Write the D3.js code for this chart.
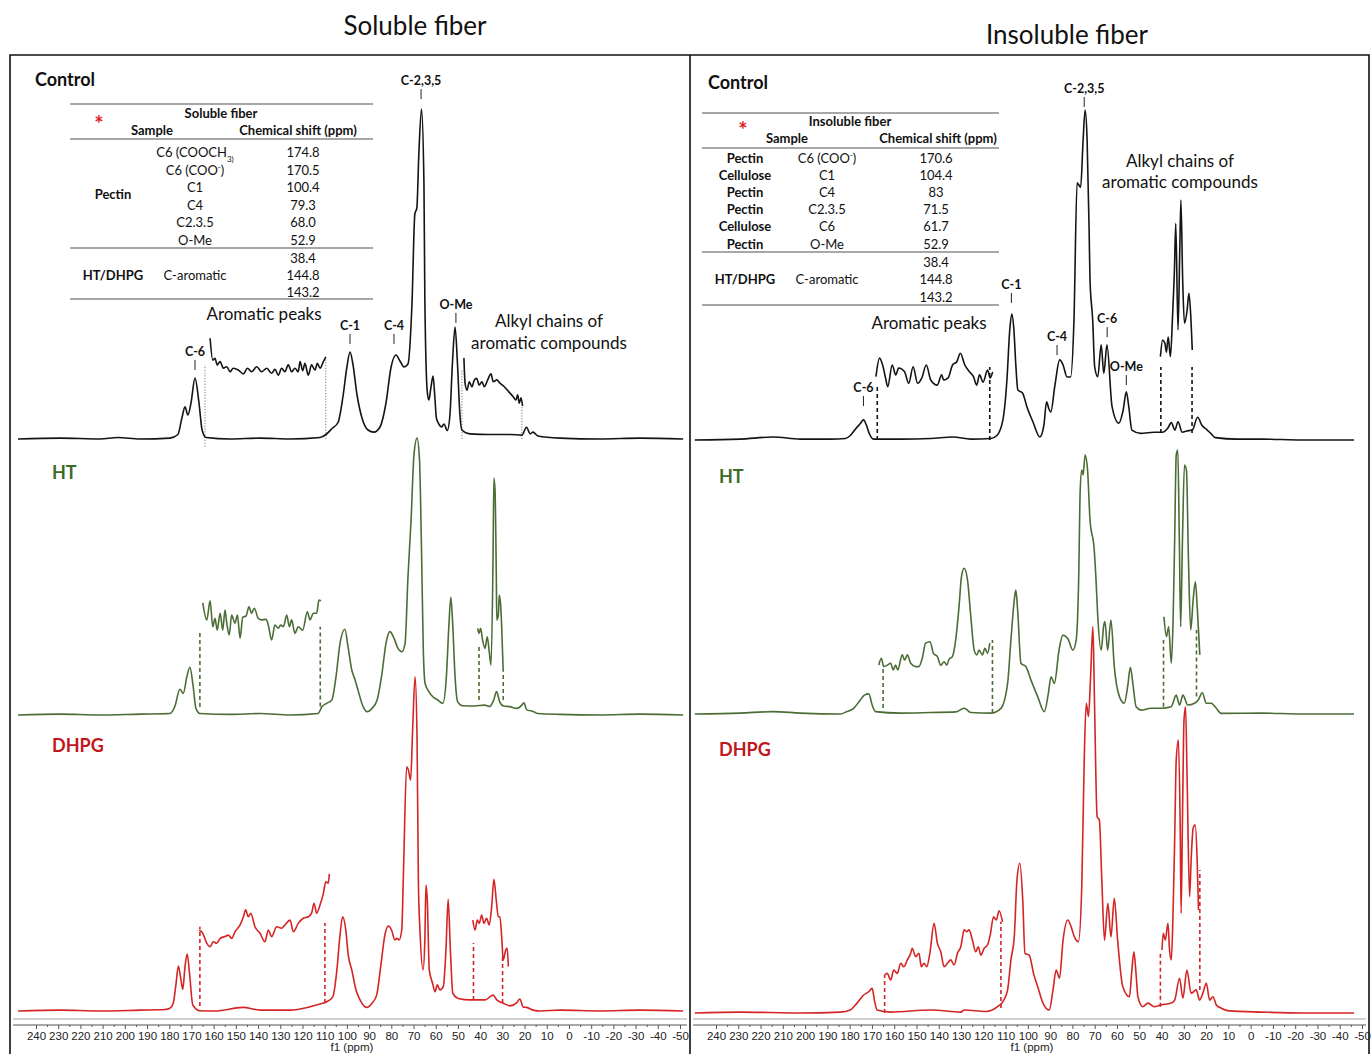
<!DOCTYPE html>
<html>
<head>
<meta charset="utf-8">
<script src="https://cdn.jsdelivr.net/npm/d3@7"></script>
<style>
  body { margin: 0; background: #fff; }
  svg { display: block; font-family: Lato, "Open Sans", sans-serif; }
  .tick text { font-family: "Liberation Sans", Arial, sans-serif; font-size: 11.5px; fill: #222; }
</style>
</head>
<body>
<div id="chart"></div>
<script>
'use strict';

// ---- data (ppm, intensity a.u.) ----
const ppmTicks = [240, 230, 220, 210, 200, 190, 180, 170, 160, 150, 140, 130, 120, 110, 100, 90, 80, 70, 60, 50, 40, 30, 20, 10, 0, -10, -20, -30, -40, -50];

// soluble fiber
const solControl = [[248.1,0],[229.2,0.3],[211.2,0],[203.1,0.5],[193.2,0],[179.7,0.3],[176.1,1.5],[174.3,7],[172.9,10.7],[171.6,8],[170.2,12],[168.4,20.3],[166.6,12],[165.2,3],[163.4,0.5],[152.6,0],[139.1,0.3],[125.6,0],[112.1,0.5],[109.4,1.5],[106.7,3.5],[104,5.5],[101.8,14],[100,24],[98.6,29],[97.3,25],[95.5,15],[93.2,7],[90.5,3],[87.8,2.3],[85.1,4],[82.4,12],[80.1,24],[77.9,28],[76.1,26],[74.3,24],[72.5,25],[70.7,45],[69.4,75],[68.5,77],[67.6,95],[66.4,110],[65.3,85],[64.9,46.7],[63.8,15.7],[63.1,13],[62.2,17],[61.2,21],[60.4,14],[59.7,7],[58.6,5],[57.4,4],[56.3,5],[54.8,2.8],[53.6,8],[52.5,25],[51.3,37.3],[50.2,25],[49.1,8],[48.2,3],[44.6,1.7],[35.6,1.5],[26.6,1.5],[21.2,1.3],[19.1,3.9],[17.5,1.7],[16.2,2.3],[14,1],[4.1,0.3],[-14,0],[-32,0.3],[-51.4,0]];
const solControlArom = [[161.6,33.6],[160.4,26.3],[159.4,26.9],[158.4,24.7],[157.1,25.8],[155.6,23.6],[154.1,24.1],[152.6,22.4],[151.2,23.6],[148.9,23],[146.6,21.7],[144.8,23.6],[142.9,22.4],[140.6,24.1],[138.4,22.4],[136.1,23.6],[133.9,21.9],[132.4,23.2],[130.9,21.3],[129.4,23.6],[127.9,22.4],[126.4,24.7],[124.9,22.4],[123.4,23.6],[121.9,22.4],[121.1,25.8],[119.9,22.8],[118.9,25.2],[117.4,21.3],[115.9,24.7],[114.4,23],[113.3,25.2],[112.1,23.6],[110.6,25.8],[109.5,27.4]];
const solControlAlkyl = [[47.3,27],[46.8,18.7],[45.9,16.3],[44.9,19.1],[43.7,17.4],[42.6,19.7],[41.6,20.2],[40.4,18],[39.2,19.1],[38.1,17.4],[36.6,19.7],[35.1,21.7],[34.1,19.1],[32.5,19.7],[31.1,18.6],[29.1,17.4],[27.2,15.8],[25.1,14.1],[23.9,13],[23.1,14.7],[22.4,11.9],[21.6,13.7],[20.9,11]];
const solControlGuides = [[163.9,-2.5,24.7],[109.5,0,27],[48.2,0,23],[21.2,0,11]];

const solHT = [[248.1,0],[229.2,0.3],[211.2,0],[193.2,0.3],[179.7,0.5],[177.4,3],[175.2,8.6],[173.7,7.2],[172,13],[170.7,15.9],[169.3,10],[168,2.3],[166.2,0.5],[152.6,0.2],[139.1,0.5],[125.6,0],[113,0.5],[111.2,2.8],[109.1,3.9],[106.8,5],[104.9,12.8],[103.1,23.9],[100.9,28.6],[99.5,22.8],[97.8,15],[96.3,11.7],[95,8.3],[92.7,2.8],[90.9,1.1],[88.7,2.2],[86.4,5],[84.2,13.9],[82.4,23.9],[80.6,27.8],[78.8,25.6],[77,22.2],[75.2,21.1],[73.8,23.9],[72.5,46],[71.1,65],[69.8,86.7],[68.4,92.3],[67.3,85],[66.4,55],[65.6,22],[64.8,10.6],[63.1,7.8],[61.3,6.1],[59.1,5],[56.8,3.9],[55.2,12.8],[54.1,29.4],[53.2,39.2],[52.3,29.4],[51.3,12.8],[50.1,4.4],[47.9,3.1],[42.5,3],[38,3.3],[35.7,2.8],[33.9,5],[32.6,7.8],[31.2,4.4],[29.4,3],[26.7,2.8],[23.6,2.2],[21.2,3.3],[20.3,4.1],[19,1.7],[16.2,1.2],[14,0.5],[4.1,0.2],[-14,0],[-32,0.3],[-51.4,0]];
const solHTArom = [[164.9,37.4],[163.1,31.7],[161.6,38.1],[160.4,29.4],[159.4,32.2],[158.4,28.3],[157.1,33.9],[155.9,28.3],[154.9,35],[154.1,30.6],[153,26.7],[151.9,33.3],[150.4,30.6],[149.3,33.3],[148.1,25.6],[146.9,32.6],[145.4,33],[144.1,36.1],[142.9,33.9],[141.7,35.6],[139.9,32.2],[138.4,31.7],[136.4,31.9],[135.4,30],[133.9,25],[132.4,30],[130.9,28.9],[129.8,30],[128.6,29.4],[127.1,33.3],[125.9,29.4],[124.9,31.7],[123.4,27.2],[121.9,29.4],[119.9,28.3],[117.8,34.4],[116.6,31.7],[115.1,33.9],[113.6,33.9],[112.6,38.3],[111.7,38.1]];
const solHTAlkyl = [[41.1,28.9],[40.5,27.2],[39.8,28.9],[38.9,25],[37.8,22.2],[36.8,26.1],[35.9,21.1],[35.1,16.7],[34.2,51.7],[33.8,79],[33.3,75],[32.7,45],[32.5,31.7],[31.8,33.3],[31.4,40],[30.7,36.1],[30.3,29.4],[29.6,14.4]];
const solHTGuides = [[166.2,2.7,27.8],[112,2.8,29.4],[40.5,5,23.3],[29.6,5,14]];

const solDHPG = [[248.1,0],[229.2,0.3],[211.2,0],[193.2,0.3],[181.9,0.5],[179.7,0.9],[178.2,2.6],[177,8.7],[175.9,15],[174.7,10.3],[173.9,7.2],[172.9,14.8],[171.9,19],[170.8,12],[169.4,2],[166.2,0.1],[159.4,0],[146.8,1.2],[139.1,0.3],[125.6,0.3],[116.6,1.4],[112.1,2.3],[109.1,3.1],[106.3,4.8],[104.5,13.7],[103.1,25.3],[101.9,31.4],[100.5,27],[99.4,18.7],[97.8,13.7],[95.9,7],[94.1,3.7],[91.1,1.2],[88.7,2.6],[86.6,5.3],[84.7,15.3],[82.9,25.3],[81.4,28.3],[79.9,27],[78.4,23.7],[77.4,24.2],[76.5,23.7],[75.3,27],[74.5,47],[73.1,81.4],[72.3,80.3],[71.3,77],[70.4,93.7],[69.3,111.4],[68.4,90.3],[67.8,42.6],[67.1,27],[65.7,13.7],[64.9,23.7],[64.4,42],[63.8,37],[62.9,13.7],[61.4,9.2],[60.3,6.4],[59.3,8.7],[58.1,7],[56.6,8.1],[55.4,20.3],[54.4,37.2],[53.4,20.3],[52.3,5.9],[49.8,4.2],[44.6,3.7],[37.8,3.7],[34.2,5.3],[32.5,3.7],[29.6,2.6],[26.6,1.7],[23.6,2.7],[22.1,4],[20.6,1.3],[19.1,1.2],[16.2,0.3],[13,0],[4.1,0.3],[-14,0],[-32,0.3],[-51.4,0]];
const solDHPGArom = [[166.5,27],[164.9,25.9],[163.1,22.6],[161.6,21.4],[160.2,23.1],[158.6,22.6],[157.1,24.2],[154.9,24.8],[153.4,25.3],[151.9,24.2],[150.4,26.4],[148.1,28.7],[146.6,31.4],[145.6,33.7],[144.4,31.4],[143.3,32.6],[141.4,28.1],[139.1,25.9],[136.9,23.1],[135.4,27],[133.9,24.8],[131.6,28.1],[129.4,27.6],[127.9,28.7],[125.6,30.3],[124.1,26.4],[121.9,29.2],[119.6,30.9],[117.4,31.4],[115.9,32.6],[114.8,35.9],[113.6,32.6],[112.1,35.3],[110.6,39.2],[109.5,43.1],[108.4,42.6],[107.9,45.7]];
const solDHPGAlkyl = [[43.3,30.3],[42.3,27],[41.3,30.3],[40.4,29.2],[39.3,32],[38.3,29.2],[37.1,30.9],[35.9,28.7],[34.8,34.8],[33.8,43.9],[32.6,35.9],[31.8,31.4],[31.1,31.4],[30.3,24.8],[29.6,17],[28.5,20.3],[27.8,20.9],[27.3,14.8]];
const solDHPGGuides = [[166.2,1.7,28.1],[109.9,2.7,29.3],[43,3.7,22.7],[29.9,2.7,18.1]];

// insoluble fiber
const insControl = [[249.5,0],[229.2,0.3],[214.3,1],[202.2,0.3],[188.7,0.3],[181.9,0.5],[179.7,1.5],[177,4],[175.2,5.5],[173.8,6.7],[172.5,5],[171.1,2],[169.3,0.3],[157.2,0.3],[143.6,0.5],[133.7,1],[125.6,0.3],[116.6,0.5],[113.9,1.5],[111.2,6.7],[109.4,20],[108.1,37],[107.2,42],[106.3,37],[105.4,25],[104.5,16.7],[102.4,15.7],[100.4,11],[97.7,6],[94.6,1],[92.8,5],[91.6,12.7],[90.6,10.5],[89.7,9.3],[87.9,18],[85.7,26.7],[84.2,25],[82.4,21],[80.8,21],[79.3,40],[77.9,85.7],[76.3,84.3],[75.2,100],[74.3,110],[73.4,100],[72.5,70],[72.1,53.3],[70.9,40],[70,24.4],[68.6,21.1],[67.1,31.7],[65.9,22.2],[64.5,31.7],[62.2,11.1],[59.2,5.6],[57.2,10],[55.8,16.1],[54.7,11.1],[53.3,3.3],[49.3,2.2],[43.4,2.6],[39.7,2.6],[37.2,3.9],[35.6,5.8],[34,3.3],[32.6,6.1],[30.7,2.6],[28.7,3],[26.2,3.3],[23.8,7.6],[21.8,4.8],[19.9,3.6],[17.9,2.2],[15.9,0.8],[6.1,0.3],[-5,0.3],[-23,0],[-46.4,0]];
const insControlArom = [[168.2,21.1],[166.6,27.3],[165.2,25],[163.9,20.7],[162.9,17.8],[160.9,25],[159.3,21.7],[158,24],[155.4,22.8],[153.5,18.9],[151.5,24.4],[149.5,18.9],[147.6,20.7],[145.6,25],[143.6,20],[140.7,18.3],[138.7,21.7],[137.8,20],[135.8,20.7],[133.8,25],[131.9,26.1],[130.3,28.9],[128.3,25],[126.3,22.8],[124.4,21.1],[123,18.3],[121.7,21.7],[120.1,19.3],[118.1,23.3],[116.9,20.7],[115.8,22.7]];
const insControlAlkyl = [[40.5,27.8],[39.5,33.3],[38.5,32.3],[37.8,29.3],[37,34.3],[36,27.8],[35,42.2],[34.2,56.7],[33.6,72.2],[32.6,36.7],[31.8,63.3],[31.3,80],[30.5,53.3],[29.7,38.9],[28.5,43.3],[27.7,48.9],[26.9,41.7],[26.2,30]];
const insControlGuides = [[167.6,0,17.7],[117.1,0,24.3],[40.3,2.3,24.3],[26.3,2.3,24.3]];

const insHT = [[249.5,0],[229.2,0.3],[214.3,0.8],[202.2,0.3],[184.2,0],[181.2,0.8],[178.2,1.9],[175.2,4.7],[173.4,6.3],[171.4,6.7],[169.9,3],[168.4,0.8],[157.2,0.3],[143.6,0.5],[132.4,0.7],[128.6,1.9],[125.6,0.5],[116.6,0.3],[112.1,1.9],[109.1,10.2],[107.6,24.7],[106.1,38],[105.4,41.3],[104.6,34.7],[103.1,16.9],[100.9,15.8],[98.6,11.3],[95.6,5.8],[92.6,0.8],[90.8,6.9],[89.6,12.4],[88.1,10.2],[86,21.3],[84.3,26.3],[82.1,25.2],[79.8,21.3],[78.3,24.7],[77.2,44.7],[76.5,74.7],[75.8,81.3],[75.2,79.7],[74.3,86.3],[73.2,81.3],[72.1,64.7],[70.2,54.7],[69.4,44.7],[68.7,33.6],[67.1,21.3],[65.9,29.7],[65.4,30.8],[64.2,21.3],[62.7,31.3],[61.2,15.8],[58.9,5.8],[56.7,3.6],[55.1,9.7],[54,15.6],[52.8,9.7],[51.4,2.4],[49.2,1.3],[44.7,1.9],[40.2,1.9],[35.7,2.4],[33.4,6.3],[31.9,3],[30.4,6.3],[28.2,3],[25.2,3.6],[23.5,4.7],[21.7,7.1],[19.9,3.6],[17.7,3.6],[15.4,1.9],[13.2,0.2],[-5,0.3],[-23,0],[-46.4,0]];
const insHTArom = [[166.9,16.3],[165.8,18.6],[164.7,15.8],[163.1,16.3],[161.6,16.9],[160.4,14.7],[159.4,16.3],[158.4,14.7],[156.4,19.7],[155.3,18],[154.1,19.7],[152.6,16.9],[150.4,15.8],[148.9,15.8],[147.4,18.6],[145.9,23.6],[143.9,24.1],[142.4,20.2],[140.6,19.1],[139.1,16.3],[137.6,17.4],[136.4,16.3],[135.4,18.2],[133.9,19.1],[132.4,24.7],[130.9,35.8],[129.8,45.8],[128.6,48.6],[127.1,44.7],[125.6,32.4],[124.1,21.3],[122.9,19.7],[121.9,21.3],[120.4,19.7],[119.3,21.9],[118.1,20.2],[117.1,23.6]];
const insHTAlkyl = [[38.9,32.4],[37.8,25.8],[36.8,29.1],[35.6,16.9],[34.8,31.3],[34.1,58],[33.4,86.3],[32.7,88],[32,58],[31.4,29.1],[30.6,58],[29.7,83],[28.8,81.3],[27.9,51.3],[26.9,28],[25.8,38],[24.8,44.1],[23.9,34.7],[22.8,19.7]];
const insHTGuides = [[165,2,15.3],[115.9,0.3,24.7],[39.1,2.4,24.7],[24.3,5.8,28]];

const insDHPG = [[249.5,0],[229.2,0.3],[202.2,0],[184.2,0.3],[179.7,1],[176.7,3.3],[173.7,6],[171.6,7],[169.9,8.2],[168.9,4.3],[167.7,1],[161.6,0.3],[143.6,1],[130.1,0.3],[128.6,1],[118.9,0.5],[113.6,2.1],[110.8,4.3],[109.1,7.7],[107.6,17.7],[106.1,25.4],[104.9,44.3],[103.6,49.9],[102.3,37.7],[101.3,19.9],[99.4,19.3],[97.3,12.7],[95.6,8.8],[93.2,3.3],[90.4,1],[88.7,7.7],[87.3,14.3],[85.8,11.6],[84.2,24.3],[82.1,31],[80.6,28.8],[79.1,25.4],[77.3,23.8],[75.8,42.1],[74.7,84.3],[73.8,103.2],[72.8,98.8],[71.9,111],[70.8,128.8],[70.1,104.3],[68.9,65.4],[67.9,64.3],[66.8,44.3],[65.6,24.3],[64.1,36.6],[62.7,25.4],[61.2,38.2],[59.7,24.3],[57.4,8.8],[54.4,5.4],[53.3,14.3],[52.4,20.4],[51.4,12.7],[50.6,5.4],[48.4,2.1],[46.1,3.3],[43.3,2.1],[40.2,2.7],[35.7,3.3],[34.1,4.3],[31.9,11.6],[30.4,4.9],[28.6,14.3],[26.7,6.6],[24.4,7.7],[22.9,4.3],[21.4,6.7],[19.9,9.9],[18.4,4.3],[16.9,5.4],[15.4,2.7],[13.2,1.6],[9.6,0.7],[-5,0.3],[-23,0],[-46.4,0]];
const insDHPGArom = [[164.3,12.7],[163.1,13.2],[161.6,11],[160.2,14.3],[158.6,13.2],[157.1,16.6],[155.7,15.4],[154.1,17.7],[152.6,19.9],[151.9,21.6],[150.4,18.8],[148.9,19.9],[147.8,15.4],[146.6,16.6],[145.4,15.4],[143.9,20.4],[142.1,29.9],[140.6,23.2],[139.1,20.4],[137.6,15.4],[136.1,16.6],[134.6,17.7],[133.1,16],[131.6,19.9],[130.1,22.1],[128.6,27.7],[127.4,27.1],[126.4,27.7],[124.9,24.3],[123.4,20.4],[122.3,22.1],[121.1,19.3],[119.6,21.6],[118.1,22.7],[116.9,26],[115.4,32.1],[114.2,31],[112.9,34.1],[111.4,30.4]];
const insDHPGAlkyl = [[39.8,21],[39.2,26.6],[38.3,24.3],[37.1,29.9],[36.4,21],[35.6,17.7],[34.9,31],[34.1,57.7],[33.4,84.3],[32.4,91],[31.6,61],[31.2,33.2],[30.6,64.3],[29.9,97.7],[29.2,102.1],[28.5,77.7],[27.4,38.8],[26.7,51],[25.8,61.6],[24.9,62.7],[24,51],[23.4,34.3]];
const insDHPGGuides = [[164.3,0,12.7],[112.1,1.7,30.4],[40.5,2.1,20],[22.8,7.7,47.7]];

// peak labels: [text, ppm, intensity at foot of the tick]
const solLabels = [['C-6',168.4,23],['C-1',98.6,31.7],['C-4',78.8,31.7],['C-2,3,5',66.6,113.3],['O-Me',50.9,38.7]];
const insLabels = [['C-6',173.8,11.3],['C-1',107.4,45.7],['C-4',86.9,28.3],['C-2,3,5',74.7,111],['C-6',64.4,34.3],['O-Me',55.8,18.3]];

// tables
const solTableRows = [['C6 (COOCH_{3)}','174.8'],['C6 (COO^{-})','170.5'],['C1','100.4'],['C4','79.3'],['C2.3.5','68.0'],['O-Me','52.9']];
const insTableRows = [['Pectin','C6 (COO^{-})','170.6'],['Cellulose','C1','104.4'],['Pectin','C4','83'],['Pectin','C2.3.5','71.5'],['Cellulose','C6','61.7'],['Pectin','O-Me','52.9']];
const aromaticShifts = ['38.4','144.8','143.2'];

const BLACK = '#141414', GREEN = '#4b6d35', RED = '#d42424';

const svg = d3.select('#chart').append('svg')
    .attr('width', 1372)
    .attr('height', 1054);

// frame
svg.append('path')
    .attr('d', 'M10,1054V55H1369V1054M690,55V1054')
    .attr('fill', 'none')
    .attr('stroke', '#111')
    .attr('stroke-width', 1.6);

function rich(t, str) {
    let re = /([_^])\{([^}]*)\}/g, last = 0, m;
    while ((m = re.exec(str))) {
        if (m.index > last) t.append('tspan').text(str.slice(last, m.index));
        t.append('tspan')
            .attr('font-size', '0.62em')
            .attr('baseline-shift', m[1] === '_' ? 'sub' : 'super')
            .text(m[2]);
        last = re.lastIndex;
    }
    if (last < str.length) t.append('tspan').text(str.slice(last));
}

function txt(x, y, s, opt) {
    opt = opt || {};
    let t = svg.append('text')
        .attr('x', x).attr('y', y)
        .attr('text-anchor', opt.anchor || 'middle')
        .attr('font-size', opt.size || 13)
        .attr('font-weight', opt.bold ? 'bold' : 'normal')
        .attr('fill', opt.color || '#111');
    rich(t, s);
    return t;
}

function hline(x1, x2, y) {
    svg.append('line')
        .attr('x1', x1).attr('x2', x2).attr('y1', y).attr('y2', y)
        .attr('stroke', '#8a8a8a').attr('stroke-width', 1.4);
}

const panels = [
    {
        range: [36, 680], left: 10, right: 690,
        labels: solLabels,
        rows: [
            { name: 'Control', color: BLACK, nameColor: '#111', base: 439, nameX: 35, nameY: 86, main: solControl, arom: solControlArom, alkyl: solControlAlkyl, guides: solControlGuides, dotted: true },
            { name: 'HT', color: GREEN, nameColor: '#3d6a26', base: 715, nameX: 52, nameY: 479, main: solHT, arom: solHTArom, alkyl: solHTAlkyl, guides: solHTGuides },
            { name: 'DHPG', color: RED, nameColor: '#c3161c', base: 1011, nameX: 52, nameY: 752, main: solDHPG, arom: solDHPGArom, alkyl: solDHPGAlkyl, guides: solDHPGGuides }
        ],
        f1X: 352
    },
    {
        range: [716, 1362], left: 690, right: 1369,
        labels: insLabels,
        rows: [
            { name: 'Control', color: BLACK, nameColor: '#111', base: 440, nameX: 708, nameY: 89, main: insControl, arom: insControlArom, alkyl: insControlAlkyl, guides: insControlGuides },
            { name: 'HT', color: GREEN, nameColor: '#3d6a26', base: 714, nameX: 719, nameY: 483, main: insHT, arom: insHTArom, alkyl: insHTAlkyl, guides: insHTGuides },
            { name: 'DHPG', color: RED, nameColor: '#c3161c', base: 1013, nameX: 719, nameY: 756, main: insDHPG, arom: insDHPGArom, alkyl: insDHPGAlkyl, guides: insDHPGGuides }
        ],
        f1X: 1032
    }
];

panels.forEach(function (p) {
    let x = d3.scaleLinear().domain([240, -50]).range(p.range);
    let g = svg.append('g');

    p.rows.forEach(function (r, ri) {
        let y = d3.scaleLinear().domain([0, 100]).range([r.base, r.base - 300]);
        let line = d3.line()
            .x(function (d) { return x(d[0]); })
            .y(function (d) { return y(d[1]); })
            .curve(d3.curveMonotoneX);

        g.selectAll(null).data(r.guides).enter().append('line')
            .attr('x1', function (d) { return x(d[0]); })
            .attr('x2', function (d) { return x(d[0]); })
            .attr('y1', function (d) { return y(d[1]); })
            .attr('y2', function (d) { return y(d[2]); })
            .attr('stroke', r.dotted ? '#777' : r.color)
            .attr('stroke-width', r.dotted ? 1 : 1.6)
            .attr('stroke-dasharray', r.dotted ? '1.2,1.6' : '4,3');

        [r.main, r.arom, r.alkyl].forEach(function (s) {
            g.append('path').datum(s)
                .attr('d', line)
                .attr('fill', 'none')
                .attr('stroke', r.color)
                .attr('stroke-width', 1.6)
                .attr('stroke-linejoin', 'round');
        });

        txt(r.nameX, r.nameY, r.name, { anchor: 'start', size: 18, bold: true, color: r.nameColor });

        if (ri === 0) {
            p.labels.forEach(function (l) {
                let px = x(l[1]), py = y(l[2]);
                g.append('line')
                    .attr('x1', px).attr('x2', px)
                    .attr('y1', py).attr('y2', py - 10)
                    .attr('stroke', '#222').attr('stroke-width', 1);
                txt(px, py - 14, l[0], { size: 12.5, bold: true });
            });
        }
    });

    // x axis
    let axisY = 1025;
    svg.append('line')
        .attr('x1', p.left + 3).attr('x2', p.right - 3)
        .attr('y1', 1019).attr('y2', 1019)
        .attr('stroke', '#d0d0d0').attr('stroke-width', 2);
    svg.append('line')
        .attr('x1', p.left + 3).attr('x2', p.right - 3)
        .attr('y1', axisY).attr('y2', axisY)
        .attr('stroke', '#555').attr('stroke-width', 1);

    let major = svg.append('g')
        .attr('transform', 'translate(0,' + axisY + ')')
        .call(d3.axisBottom(x).tickValues(ppmTicks).tickSize(4).tickSizeOuter(0)
            .tickFormat(function (d) { return String(d); }));
    major.select('.domain').remove();
    major.selectAll('.tick line').attr('stroke', '#555');

    let minorTicks = ppmTicks.slice(1).map(function (t) { return t + 5; });
    let minor = svg.append('g')
        .attr('transform', 'translate(0,' + axisY + ')')
        .call(d3.axisBottom(x).tickValues(minorTicks).tickSize(2).tickSizeOuter(0).tickFormat(''));
    minor.select('.domain').remove();
    minor.selectAll('.tick line').attr('stroke', '#555');

    svg.append('text')
        .attr('x', p.f1X).attr('y', 1051)
        .attr('text-anchor', 'middle')
        .attr('font-family', '"Liberation Sans", Arial, sans-serif')
        .attr('font-size', 11.5)
        .attr('fill', '#222')
        .text('f1 (ppm)');
});

// titles and annotations
txt(415, 35, 'Soluble fiber', { size: 26 });
txt(1067, 44, 'Insoluble fiber', { size: 26 });
txt(264, 320, 'Aromatic peaks', { size: 17 });
txt(549, 327, 'Alkyl chains of', { size: 17 });
txt(549, 349, 'aromatic compounds', { size: 17 });
txt(929, 329, 'Aromatic peaks', { size: 17 });
txt(1180, 167, 'Alkyl chains of', { size: 17 });
txt(1180, 188, 'aromatic compounds', { size: 17 });

// soluble fiber table
hline(70, 373, 104);
hline(70, 373, 139);
hline(70, 373, 248);
hline(70, 373, 299);
txt(221, 118, 'Soluble fiber', { bold: true });
txt(99, 132, '*', { size: 22, bold: true, color: '#e0201c' });
txt(152, 135, 'Sample', { bold: true });
txt(298, 135, 'Chemical shift (ppm)', { bold: true });
txt(113, 199, 'Pectin', { bold: true });
solTableRows.forEach(function (r, i) {
    let yy = 157 + i * 17.5;
    txt(195, yy, r[0]);
    txt(303, yy, r[1]);
});
txt(113, 280, 'HT/DHPG', { bold: true });
txt(195, 280, 'C-aromatic');
aromaticShifts.forEach(function (v, i) {
    txt(303, 262.5 + i * 17.2, v);
});

// insoluble fiber table
hline(702, 999, 113);
hline(702, 999, 148);
hline(702, 999, 252);
hline(702, 999, 305);
txt(850, 126, 'Insoluble fiber', { bold: true });
txt(743, 138, '*', { size: 22, bold: true, color: '#e0201c' });
txt(787, 143, 'Sample', { bold: true });
txt(938, 143, 'Chemical shift (ppm)', { bold: true });
insTableRows.forEach(function (r, i) {
    let yy = 162.5 + i * 17.2;
    txt(745, yy, r[0], { bold: true });
    txt(827, yy, r[1]);
    txt(936, yy, r[2]);
});
txt(745, 284, 'HT/DHPG', { bold: true });
txt(827, 284, 'C-aromatic');
aromaticShifts.forEach(function (v, i) {
    txt(936, 266.5 + i * 17.5, v);
});
</script>
</body>
</html>
